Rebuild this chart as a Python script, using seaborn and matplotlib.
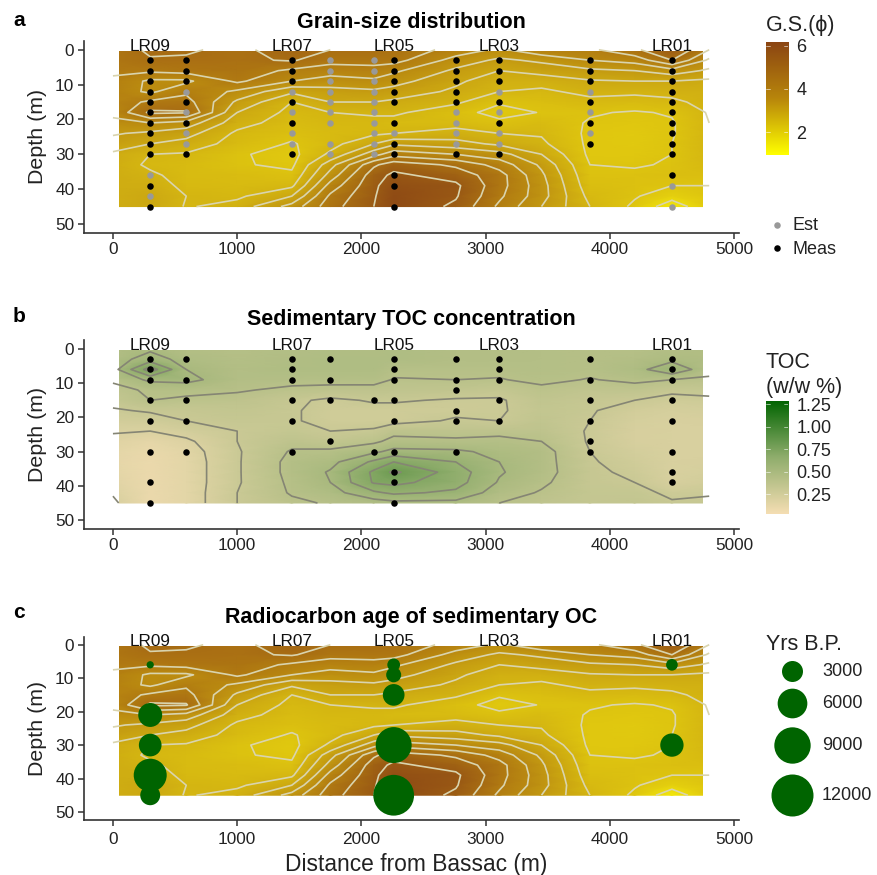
# ==============================
# IMPORT LIBRARIES
# ==============================
import numpy as np
import pandas as pd
import matplotlib
matplotlib.use('Agg')
import matplotlib.pyplot as plt
from matplotlib.colors import LinearSegmentedColormap
from matplotlib.patches import Rectangle
import seaborn as sns

# ==============================
# DATA
# ==============================
grid_x = [0, 300, 590, 1000, 1440, 1750, 2100, 2260, 2760, 3110, 3450, 3840, 4200, 4500, 4800]
grid_depth = [0, 3, 6, 9, 12, 15, 18, 21, 24, 27, 30, 33, 36, 39, 42, 45]

# grain size, one list per grid_x position, top to bottom
gs_columns = [
    [4.7, 4.7, 4.6, 4.4, 4.3, 4.2, 4.1, 3.9, 3.55, 3.3, 2.9, 2.8, 2.8, 2.8, 2.8, 2.8],
    [5.1, 4.95, 4.6, 3.9, 3.9, 4.6, 5.1, 4.0, 3.4, 3.0, 2.5, 2.4, 2.6, 2.8, 3.0, 3.0],
    [5.05, 4.95, 4.7, 3.9, 4.4, 4.7, 5.05, 3.8, 3.2, 2.8, 2.45, 2.3, 2.3, 2.35, 2.5, 2.45],
    [4.9, 4.9, 4.8, 4.6, 3.9, 3.4, 3.0, 2.7, 2.4, 2.3, 2.05, 2.05, 2.25, 2.3, 2.4, 2.7],
    [5.2, 5.05, 4.4, 4.0, 3.1, 2.5, 2.35, 2.25, 2.15, 1.95, 1.85, 1.9, 2.1, 2.4, 3.0, 3.7],
    [5.0, 4.7, 4.2, 3.8, 3.3, 3.0, 2.5, 2.4, 2.3, 2.3, 2.6, 3.3, 3.7, 4.2, 4.6, 4.8],
    [5.0, 4.7, 4.3, 3.9, 3.4, 3.0, 2.55, 2.4, 2.4, 3.0, 3.8, 4.9, 5.3, 5.4, 5.45, 5.5],
    [4.9, 4.7, 4.1, 3.7, 3.3, 2.9, 2.6, 2.3, 2.5, 3.4, 4.3, 5.3, 5.6, 5.8, 5.9, 5.9],
    [4.3, 3.8, 3.4, 3.1, 2.9, 2.6, 2.15, 2.3, 2.7, 3.2, 4.0, 4.9, 5.3, 5.6, 5.55, 5.4],
    [3.9, 3.4, 3.0, 2.7, 2.5, 2.05, 1.85, 2.1, 2.5, 2.9, 3.7, 4.3, 4.7, 4.7, 4.6, 4.4],
    [4.4, 3.6, 3.2, 2.7, 2.4, 2.2, 2.02, 2.3, 2.45, 2.6, 3.0, 3.4, 3.6, 3.7, 3.7, 3.5],
    [4.4, 4.0, 3.4, 2.95, 2.65, 2.35, 2.05, 1.95, 1.9, 1.9, 1.9, 2.0, 2.1, 2.2, 2.35, 2.5],
    [4.9, 4.2, 3.5, 3.0, 2.6, 2.3, 1.95, 1.9, 1.85, 1.85, 1.9, 1.95, 2.1, 2.1, 2.05, 1.9],
    [5.5, 5.0, 3.8, 3.0, 2.65, 2.4, 2.05, 1.95, 1.95, 2.0, 2.0, 2.05, 2.15, 2.0, 1.7, 1.2],
    [4.5, 3.9, 3.4, 2.9, 2.7, 2.65, 2.55, 2.5, 2.5, 2.5, 2.45, 2.35, 2.2, 2.0, 1.95, 1.9],
]

# TOC, same layout
toc_columns = [
    [.44, .45, .46, .42, .36, .33, .29, .25, .21, .17, .14, .13, .14, .16, .19, .22],
    [.48, .55, .75, .52, .42, .40, .31, .26, .20, .13, .10, .09, .09, .09, .09, .09],
    [.44, .46, .50, .53, .43, .38, .32, .30, .24, .18, .15, .14, .14, .14, .14, .14],
    [.42, .43, .44, .44, .41, .37, .34, .32, .30, .30, .29, .29, .29, .29, .30, .30],
    [.44, .45, .46, .43, .38, .32, .31, .31, .33, .37, .41, .43, .43, .42, .41, .38],
    [.45, .46, .46, .43, .37, .28, .27, .27, .30, .34, .42, .47, .51, .50, .46, .41],
    [.45, .46, .46, .43, .37, .31, .27, .27, .31, .38, .48, .62, .72, .71, .58, .45],
    [.46, .46, .42, .395, .36, .31, .27, .27, .37, .43, .53, .70, .82, .73, .62, .47],
    [.44, .44, .42, .40, .35, .29, .28, .31, .36, .42, .52, .60, .65, .64, .58, .47],
    [.44, .44, .42, .395, .33, .29, .29, .30, .37, .43, .47, .50, .51, .49, .45, .40],
    [.43, .43, .43, .42, .38, .35, .34, .35, .37, .40, .44, .44, .44, .42, .39, .36],
    [.42, .42, .42, .395, .35, .32, .31, .30, .29, .29, .30, .31, .32, .32, .33, .33],
    [.42, .44, .46, .42, .36, .30, .25, .23, .22, .22, .24, .26, .28, .30, .33, .34],
    [.44, .47, .58, .40, .32, .27, .23, .21, .21, .21, .21, .21, .21, .22, .28, .31],
    [.45, .45, .43, .385, .33, .28, .24, .22, .21, .21, .21, .22, .23, .25, .29, .32],
]

gs_levels = [1.5, 2, 2.5, 3, 3.5, 4, 4.5, 5, 5.5]
toc_levels = [0.2, 0.3, 0.4, 0.5, 0.6, 0.7, 0.8]

station_names = ["LR09", "LR07", "LR05", "LR03", "LR01"]
station_x = [300, 1440, 2260, 3110, 4500]

# sample positions for panel a
gs_meas_x = [300]*12 + [590]*6 + [1440]*6 + [2260]*11 + [2760]*6 + [3110]*6 + [3840]*6 + [4500]*11
gs_meas_depth = [3, 6, 9, 12, 15, 18, 21, 24, 27, 30, 39, 45,
                 3, 6, 9, 15, 21, 30,
                 3, 6, 9, 15, 21, 30,
                 3, 6, 9, 12, 15, 21, 27, 30, 36, 39, 45,
                 3, 6, 9, 12, 15, 30,
                 3, 6, 9, 15, 21, 30,
                 3, 6, 9, 15, 21, 27,
                 3, 6, 9, 12, 15, 18, 21, 24, 27, 30, 36]
gs_est_x = [300]*2 + [590]*4 + [1440]*4 + [1750]*9 + [2100]*10 + [2260] + [2760]*4 + [3110]*4 + [3840]*3 + [4500]*2
gs_est_depth = [36, 42,
                12, 18, 24, 27,
                12, 18, 24, 27,
                3, 6, 9, 12, 15, 18, 21, 27, 30,
                3, 6, 9, 12, 15, 18, 21, 24, 27, 30,
                24,
                18, 21, 24, 27,
                12, 18, 24, 27,
                12, 18, 24,
                39, 45]

# sample positions for panel b
toc_x = [300]*8 + [590]*5 + [1440]*6 + [1750]*4 + [2100]*2 + [2260]*9 + [2760]*6 + [3110]*5 + [3840]*6 + [4500]*8
toc_depth = [3, 6, 9, 15, 21, 30, 39, 45,
             3, 9, 15, 21, 30,
             3, 6, 9, 15, 21, 30,
             3, 9, 15, 27,
             15, 30,
             3, 6, 9, 15, 21, 30, 36, 39, 45,
             3, 9, 12, 18, 21, 30,
             3, 6, 9, 15, 21,
             3, 9, 15, 21, 27, 30,
             3, 6, 9, 15, 21, 30, 36, 39]

# radiocarbon ages for panel c
age_x = [300]*5 + [2260]*5 + [4500]*2
age_depth = [6, 21, 30, 39, 45, 6, 9, 15, 30, 45, 6, 30]
age_years = [360, 3900, 3500, 7400, 2700, 1100, 1530, 3200, 8800, 11300, 930, 3700]
legend_ages = [3000, 6000, 9000, 12000]
legend_age_y = [671, 703, 745, 795]

# ==============================
# CONFIGURATION
# ==============================
W, H = 877, 875
GS_CMAP = LinearSegmentedColormap.from_list("gs", ["#FFFF00", "#B8860B", "#8B4513"])
# the field reads a bit duller than the bar, so it gets its own stops
GS_FIELD_CMAP = LinearSegmentedColormap.from_list("gs_field", [
    (0.0, "#FFFF00"), (0.05, "#F3E80B"), (0.184, "#DFC60F"), (0.30, "#D4B512"), (0.394, "#CCA812"),
    (0.585, "#BA8A10"), (0.776, "#A96E13"), (0.948, "#8F4B14"), (1.0, "#8B4513")])
TOC_CMAP = LinearSegmentedColormap.from_list("toc", ["#F5DEB3", "#8FAD6C", "#006400"])
GS_RANGE = (0.94, 6.17)
TOC_RANGE = (0.03, 1.287)
AGE_FACTOR = 0.0762  # marker area (pt^2) per year
DOT_SIZE = 22
DARK = "#222222"

sns.set_theme(style="ticks")
plt.rcParams['font.family'] = ['Liberation Sans', 'DejaVu Sans']
plt.rcParams['axes.linewidth'] = 1.2
plt.rcParams['axes.edgecolor'] = '#333333'


def px_axes(fig, left, top, right, bottom):
    return fig.add_axes([left / W, 1 - bottom / H, (right - left) / W, (bottom - top) / H])


def draw_field(ax, columns, cmap, crange, levels, line_color, line_width):
    Z = np.array(columns).T
    mesh = ax.pcolormesh(grid_x, grid_depth, Z, cmap=cmap, vmin=crange[0], vmax=crange[1],
                         shading='gouraud', zorder=1)
    mesh.set_clip_path(Rectangle((50, 0.4), 4700, 45, transform=ax.transData))
    ax.contour(grid_x, grid_depth, Z, levels=levels, colors=line_color,
               linewidths=line_width, zorder=2)


def style_axes(ax, ylim, title, title_y):
    ax.set_xlim(-233, 5040)
    ax.set_ylim(*ylim)
    ax.set_xticks([0, 1000, 2000, 3000, 4000, 5000])
    ax.set_yticks([0, 10, 20, 30, 40, 50])
    ax.tick_params(labelsize=12.4, length=4, width=1.1, color='#333333', labelcolor=DARK, pad=3)
    ax.set_xlabel("")
    ax.set_ylabel("Depth (m)", fontsize=15.4, color=DARK, labelpad=6)
    sns.despine(ax=ax)
    for name, x in zip(station_names, station_x):
        ax.text(x, -0.9, name, ha='center', va='center', fontsize=12.4, color='#111111', zorder=5)
    overlay.text(411, title_y, title, ha='center', va='center', fontsize=15.5,
                 fontweight='bold', color='black')


def draw_colorbar(rect, cmap, crange, ticks, labels):
    cax = px_axes(fig, *rect)
    gradient = np.linspace(crange[0], crange[1], 256)[:, None]
    cax.imshow(gradient, origin='lower', aspect='auto', cmap=cmap, vmin=crange[0], vmax=crange[1],
               extent=[0, 1, crange[0], crange[1]])
    cax.set_xticks([])
    cax.yaxis.tick_right()
    cax.set_yticks(ticks)
    cax.set_yticklabels(labels, fontsize=13, color=DARK)
    cax.tick_params(axis='y', length=0, pad=6)
    for t in ticks:
        cax.plot([0, 0.2], [t, t], color='white', lw=0.5, alpha=0.8)
        cax.plot([0.8, 1], [t, t], color='white', lw=0.5, alpha=0.8)
    cax.set_xlim(0, 1)
    for spine in cax.spines.values():
        spine.set_visible(False)


# ==============================
# FIGURE
# ==============================
fig = plt.figure(figsize=(W / 100, H / 100), dpi=100)

overlay = fig.add_axes([0, 0, 1, 1], zorder=10)
overlay.set_xlim(0, W)
overlay.set_ylim(H, 0)
overlay.axis('off')
overlay.patch.set_alpha(0)

# ==============================
# PANEL A
# ==============================
ax_a = px_axes(fig, 84, 40.7, 739, 232.7)
draw_field(ax_a, gs_columns, GS_FIELD_CMAP, GS_RANGE, gs_levels, "#D9D4AE", 1.2)
sns.scatterplot(data=pd.DataFrame({"x": gs_est_x, "d": gs_est_depth}), x="x", y="d", ax=ax_a,
                color="#999999", s=DOT_SIZE, linewidth=0, zorder=3, legend=False)
sns.scatterplot(data=pd.DataFrame({"x": gs_meas_x, "d": gs_meas_depth}), x="x", y="d", ax=ax_a,
                color="black", s=DOT_SIZE, linewidth=0, zorder=4, legend=False)
style_axes(ax_a, (52.5, -2.6), "Grain-size distribution", 23)
draw_colorbar((765.7, 42, 788, 155), GS_CMAP, GS_RANGE, [2, 4, 6], ["2", "4", "6"])

# ==============================
# PANEL B
# ==============================
ax_b = px_axes(fig, 84, 340, 739, 528.7)
draw_field(ax_b, toc_columns, TOC_CMAP, TOC_RANGE, toc_levels, "#858574", 1.2)
sns.scatterplot(data=pd.DataFrame({"x": toc_x, "d": toc_depth}), x="x", y="d", ax=ax_b,
                color="black", s=DOT_SIZE, linewidth=0, zorder=4, legend=False)
style_axes(ax_b, (52.5, -2.6), "Sedimentary TOC concentration", 320)
draw_colorbar((765.7, 400.7, 788, 514), TOC_CMAP, TOC_RANGE, [0.25, 0.5, 0.75, 1.0, 1.25],
              ["0.25", "0.50", "0.75", "1.00", "1.25"])

# ==============================
# PANEL C
# ==============================
ax_c = px_axes(fig, 84, 636.7, 739, 820)
draw_field(ax_c, gs_columns, GS_FIELD_CMAP, GS_RANGE, gs_levels, "#D9D4AE", 1.2)
age_df = pd.DataFrame({"x": age_x, "d": age_depth, "age": age_years})
age_min, age_max = min(age_years), max(age_years)
sns.scatterplot(data=age_df, x="x", y="d", size="age", ax=ax_c, color="#006400", linewidth=0,
                size_norm=(age_min, age_max),
                sizes=(AGE_FACTOR * age_min, AGE_FACTOR * age_max),
                zorder=4, legend=False, clip_on=False)
style_axes(ax_c, (52.4, -2.4), "Radiocarbon age of sedimentary OC", 617)
ax_c.tick_params(axis='x', pad=5)
overlay.text(416, 864, "Distance from Bassac (m)", ha='center', va='center', fontsize=16.4, color=DARK)

# ==============================
# LEGENDS AND LETTERS
# ==============================
for letter, y in zip("abc", [20, 316, 613]):
    overlay.text(13, y, letter, ha='left', va='center', fontsize=15, fontweight='bold', color='black')

overlay.text(766, 25, "G.S.(ϕ)", ha='left', va='center', fontsize=15.5, color=DARK)
overlay.text(766, 362, "TOC", ha='left', va='center', fontsize=15.5, color=DARK)
overlay.text(766, 388, "(w/w %)", ha='left', va='center', fontsize=15.5, color=DARK)
overlay.text(766, 644, "Yrs B.P.", ha='left', va='center', fontsize=15.5, color=DARK)

overlay.scatter([776.7], [225], s=DOT_SIZE, color="#999999", linewidths=0)
overlay.scatter([776.7], [248], s=DOT_SIZE, color="black", linewidths=0)
overlay.text(792, 226, "Est", ha='left', va='center', fontsize=13, color=DARK)
overlay.text(792, 249, "Meas", ha='left', va='center', fontsize=13, color=DARK)

for age, y in zip(legend_ages, legend_age_y):
    overlay.scatter([791.7], [y], s=AGE_FACTOR * age, color="#006400", linewidths=0)
    overlay.text(822, y, str(age), ha='left', va='center', fontsize=13, color=DARK)

plt.savefig("out.png", dpi=100)
